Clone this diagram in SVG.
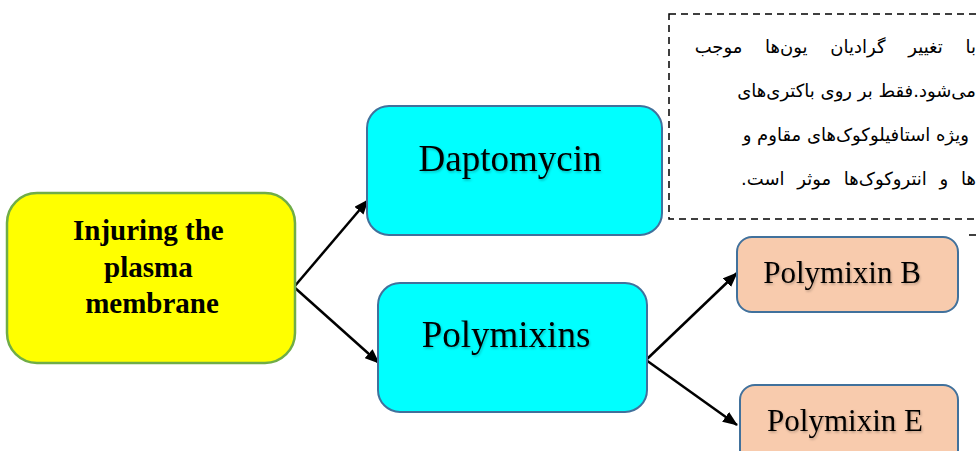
<svg xmlns="http://www.w3.org/2000/svg" width="976" height="451" viewBox="0 0 976 451">
  <defs>
    <marker id="ah" markerWidth="15" markerHeight="12" refX="14" refY="6" orient="auto" markerUnits="userSpaceOnUse">
      <path d="M0,0 L15,6 L0,12 Z" fill="#000"/>
    </marker>
    <filter id="sh" x="-10%" y="-20%" width="120%" height="140%">
      <feDropShadow dx="1" dy="1.5" stdDeviation="1" flood-color="#000" flood-opacity="0.25"/>
    </filter>
  </defs>
  <style>
    .serif { font-family: "Liberation Serif", "Times New Roman", serif; fill: #000; }
    .fa { font-family: "DejaVu Sans", "Noto Sans", sans-serif; font-size: 18px; fill: #000; }
    .cyan { fill: #00FFFF; stroke: #41719C; stroke-width: 2; }
    .peach { fill: #F8CBAD; stroke: #41719C; stroke-width: 2; }
    .conn { stroke: #000; stroke-width: 2.5; fill: none; marker-end: url(#ah); }
  </style>
  <rect width="976" height="451" fill="#fff"/>

  <g id="note">
    <rect x="669" y="14" width="320" height="205" fill="#fff" stroke="#000" stroke-width="1.5" stroke-dasharray="7 5"/>
    <text class="fa" x="976" y="53" direction="rtl" text-anchor="start" word-spacing="17">با تغییر گرادیان یون‌ها موجب</text>
    <text class="fa" x="976" y="97" direction="rtl" text-anchor="start">می‌شود.فقط بر روی باکتری‌های</text>
    <text class="fa" x="969" y="141" direction="rtl" text-anchor="start">ویژه استافیلوکوک‌های مقاوم و</text>
    <text class="fa" x="976" y="185" direction="rtl" text-anchor="start" word-spacing="7">ها و انتروکوک‌ها موثر است.</text>
    <line x1="969" y1="235" x2="976" y2="235" stroke="#000" stroke-width="1.5"/>
  </g>

  <g id="connectors">
    <line class="conn" x1="294" y1="287" x2="368" y2="200"/>
    <line class="conn" x1="294" y1="287" x2="379" y2="363"/>
    <line class="conn" x1="646" y1="360" x2="737" y2="273"/>
    <line class="conn" x1="646" y1="360" x2="737" y2="425"/>
  </g>

  <g id="injuring">
    <rect x="7" y="193" width="288" height="170" rx="30" fill="#FFFF00" stroke="#70AD47" stroke-width="2.5"/>
    <text class="serif" font-weight="bold" font-size="29" text-anchor="middle">
      <tspan x="152" y="240">Injuring the</tspan>
      <tspan x="152" y="277">plasma</tspan>
      <tspan x="152" y="313">membrane</tspan>
    </text>
  </g>

  <g id="daptomycin">
    <rect class="cyan" x="367" y="106" width="295" height="129" rx="22"/>
    <text class="serif" font-size="37" x="510" y="171" text-anchor="middle" filter="url(#sh)">Daptomycin</text>
  </g>

  <g id="polymixins">
    <rect class="cyan" x="378" y="283" width="269" height="129" rx="22"/>
    <text class="serif" font-size="37" x="506" y="347" text-anchor="middle" filter="url(#sh)">Polymixins</text>
  </g>

  <g id="polymixinB">
    <rect class="peach" x="737" y="237" width="221" height="75" rx="15"/>
    <text class="serif" font-size="31" x="842" y="283" text-anchor="middle" filter="url(#sh)">Polymixin B</text>
  </g>

  <g id="polymixinE">
    <rect class="peach" x="740" y="385" width="218" height="90" rx="15"/>
    <text class="serif" font-size="31" x="845" y="431" text-anchor="middle" filter="url(#sh)">Polymixin E</text>
  </g>
</svg>
